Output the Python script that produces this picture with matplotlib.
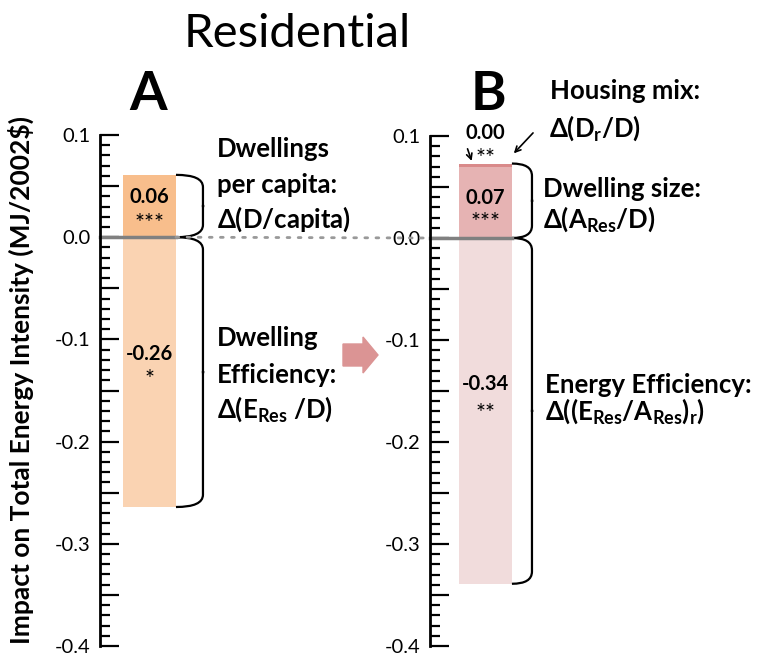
import matplotlib
matplotlib.use('Agg')
import matplotlib.pyplot as plt
from matplotlib.path import Path
from matplotlib.patches import PathPatch, FancyArrow, ConnectionPatch
from matplotlib.ticker import MultipleLocator, FuncFormatter

plt.rcParams['font.family'] = ['Lato', 'DejaVu Sans']
plt.rcParams['mathtext.fontset'] = 'custom'
plt.rcParams['mathtext.rm'] = 'Lato:bold'
plt.rcParams['mathtext.it'] = 'Lato:bold'
plt.rcParams['mathtext.bf'] = 'Lato:bold'
plt.rcParams['mathtext.fallback'] = 'stixsans'

# panel A: dwellings per capita, dwelling efficiency
a_values = [0.061, -0.264]
a_labels = ['0.06', '-0.26']
a_stars = ['***', '*']
a_colors = ['#f8be8c', '#fad3b2']

# panel B: dwelling size, housing mix (stacked on top), energy efficiency
b_size = 0.070
b_mix = 0.003
b_eff = -0.339
b_labels = ['0.07', '0.00', '-0.34']
b_stars = ['***', '**', '**']

W, H = 770, 658
fig = plt.figure(figsize=(W / 100, H / 100), dpi=100)

def fx(px):
    return px / W

def fy(py):
    return 1 - py / H

axA = fig.add_axes([fx(100), fy(646), 99 / W, 511 / H])
axB = fig.add_axes([fx(430), fy(646), 99 / W, 510 / H])

def style_axis(ax):
    ax.set_xlim(0, 1)
    ax.set_ylim(-0.4, 0.1)
    for s in ['top', 'right', 'bottom']:
        ax.spines[s].set_visible(False)
    ax.spines['left'].set_linewidth(2)
    ax.set_xticks([])
    ax.yaxis.set_major_locator(MultipleLocator(0.05))
    ax.yaxis.set_minor_locator(MultipleLocator(0.01))
    ax.yaxis.set_major_formatter(FuncFormatter(
        lambda v, p: f'{round(v, 1) + 0:.1f}' if abs(v * 10 - round(v * 10)) < 1e-6 else ''))
    ax.tick_params(axis='y', which='major', direction='in', length=14, width=1.6,
                   labelsize=14.5, pad=7)
    ax.tick_params(axis='y', which='minor', direction='in', length=7, width=1.6)
    ax.patch.set_alpha(0)

style_axis(axA)
style_axis(axB)

def brace(ax, x0, xr, y_top, y_bot, r=0.012):
    ym = (y_top + y_bot) / 2
    n = 0.002
    verts = [(x0, y_top), (xr, y_top), (xr, y_top - r),
             (xr, ym + n),
             (xr, ym), (xr + 0.012, ym), (xr, ym), (xr, ym - n),
             (xr, y_bot + r), (xr, y_bot), (x0, y_bot)]
    codes = [Path.MOVETO, Path.CURVE3, Path.CURVE3,
             Path.LINETO,
             Path.LINETO, Path.LINETO, Path.LINETO, Path.LINETO,
             Path.LINETO, Path.CURVE3, Path.CURVE3]
    ax.add_patch(PathPatch(Path(verts, codes), fill=False, lw=1.6,
                           color='black', clip_on=False))

num = dict(ha='center', va='center', fontsize=14.5, fontweight='bold')
star = dict(ha='center', va='center', fontsize=17)

# ---- panel A
xa, wa = 0.5, 0.535
axA.bar(xa, a_values[0], width=wa, color=a_colors[0], zorder=1)
axA.bar(xa, a_values[1], width=wa, color=a_colors[1], zorder=1)
axA.plot([0, xa + wa / 2], [0, 0], color='#808080', lw=2.5, zorder=2, clip_on=False)
axA.text(xa, 0.039, a_labels[0], **num)
axA.text(xa, 0.013, a_stars[0], **star)
axA.text(xa, -0.114, a_labels[1], **num)
axA.text(xa, -0.139, a_stars[1], **star)
brace(axA, xa + wa / 2, 1.04, a_values[0], 0)
brace(axA, xa + wa / 2, 1.04, 0, a_values[1])

# ---- panel B
xb, wb = 0.56, 0.535
axB.bar(xb, b_size, width=wb, color='#e6b3b3', zorder=1)
axB.bar(xb, b_mix, bottom=b_size, width=wb, color='#d98a8a', zorder=1)
axB.bar(xb, b_eff, width=wb, color='#f1dcdc', zorder=1)
axB.plot([0, xb + wb / 2], [0, 0], color='#808080', lw=2.5, zorder=2, clip_on=False)
axB.text(xb, 0.039, b_labels[0], **num)
axB.text(xb, 0.015, b_stars[0], **star)
axB.text(xb, 0.103, b_labels[1], **num)
axB.text(xb, 0.078, b_stars[1], **star)
axB.text(xb, -0.143, b_labels[2], **num)
axB.text(xb, -0.172, b_stars[2], **star)
brace(axB, xb + wb / 2, 1.03, b_size + b_mix, 0)
brace(axB, xb + wb / 2, 1.03, 0, b_eff)

# small arrows for housing mix
axB.annotate('', xy=(0.43, b_size + b_mix), xytext=(0.37, 0.09),
             arrowprops=dict(arrowstyle='->', lw=1.2, color='black'),
             annotation_clip=False)
axB.annotate('', xy=(xb + wb / 2, b_size + b_mix + 0.008), xytext=(1.06, 0.105),
             arrowprops=dict(arrowstyle='->', lw=1.2, color='black'),
             annotation_clip=False)

# dotted zero line between panels
fig.add_artist(ConnectionPatch(xyA=(xa + wa / 2, 0), coordsA=axA.transData,
                               xyB=(0, 0), coordsB=axB.transData,
                               linestyle=(0, (1, 3)), lw=2, color='#999999'))

# arrow between panels
fig.add_artist(FancyArrow(3.43, H / 100 - 3.55, 0.20, 0, width=0.22, head_width=0.36,
                          head_length=0.15, length_includes_head=False,
                          color='#db9494', transform=fig.dpi_scale_trans))

# titles
fig.text(fx(297), fy(47), 'Residential', ha='center', va='baseline', fontsize=34)
fig.text(fx(148), fy(110), 'A', ha='center', va='baseline', fontsize=39, fontweight='bold')
fig.text(fx(488), fy(110), 'B', ha='center', va='baseline', fontsize=39, fontweight='bold')
fig.text(fx(21), fy(380), 'Impact on Total Energy Intensity (MJ/2002$)', rotation=90,
         ha='center', va='center', fontsize=19, fontweight='bold')

lab = dict(ha='left', va='baseline', fontsize=18.5, fontweight='bold')
fig.text(fx(217), fy(157), 'Dwellings', **lab)
fig.text(fx(217), fy(193), 'per capita:', **lab)
fig.text(fx(217), fy(228), r'$\Delta$(D/capita)', **lab)
fig.text(fx(217), fy(346), 'Dwelling', **lab)
fig.text(fx(217), fy(383), 'Efficiency:', **lab)
fig.text(fx(217), fy(418), r'$\Delta$(E$_{Res}$ /D)', **lab)
fig.text(fx(550), fy(99), 'Housing mix:', **lab)
fig.text(fx(549), fy(137), r'$\Delta$(D$_r$/D)', **lab)
fig.text(fx(543), fy(197), 'Dwelling size:', **lab)
fig.text(fx(543), fy(228), r'$\Delta$(A$_{Res}$/D)', **lab)
fig.text(fx(545), fy(393), 'Energy Efficiency:', **lab)
fig.text(fx(545), fy(420), r'$\Delta$((E$_{Res}$/A$_{Res}$)$_r$)', **lab)

fig.savefig('out.png', dpi=100)
